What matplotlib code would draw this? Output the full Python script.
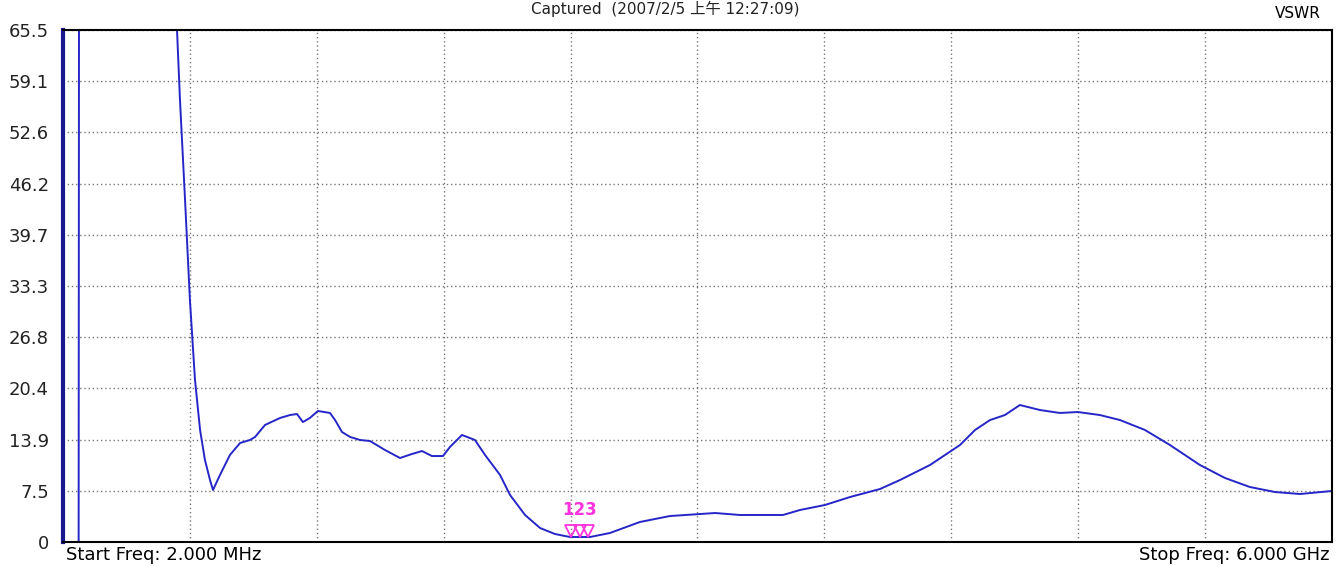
import numpy as np
import matplotlib
matplotlib.use("Agg")
import matplotlib.pyplot as plt

plt.rcParams['font.family'] = ['DejaVu Sans', 'Noto Sans CJK SC']

# VSWR trace, frequency in GHz
freq = [0.002, 0.004, 0.076, 0.078, 0.52,
        0.541, 0.555, 0.579, 0.602, 0.626, 0.650, 0.673, 0.697, 0.711, 0.744,
        0.791, 0.839, 0.886, 0.910, 0.957, 1.028, 1.075, 1.108, 1.136, 1.169,
        1.207, 1.264, 1.288, 1.321, 1.359, 1.406, 1.453, 1.524, 1.595, 1.652,
        1.699, 1.746, 1.798, 1.831, 1.888, 1.949, 1.997, 2.068, 2.115, 2.186,
        2.257, 2.327, 2.398, 2.493, 2.587, 2.729, 2.871, 3.013, 3.084, 3.202,
        3.405, 3.486, 3.604, 3.722, 3.864, 3.958, 4.100, 4.242, 4.313, 4.384,
        4.454, 4.525, 4.620, 4.714, 4.799, 4.903, 4.998, 5.116, 5.234, 5.376,
        5.494, 5.612, 5.731, 5.849, 6.000]
vswr = [80, 1.06, 1.06, 80, 80,
        65.5, 56.69, 44.10, 31.52, 21.45, 15.16, 11.38, 8.86, 7.60, 9.49,
        12.01, 13.52, 13.90, 14.28, 15.79, 16.67, 17.04, 17.17, 16.16, 16.67,
        17.55, 17.30, 16.41, 14.90, 14.28, 13.90, 13.77, 12.64, 11.63, 12.14,
        12.51, 11.88, 11.88, 13.02, 14.53, 13.90, 12.01, 9.49, 6.98, 4.46,
        2.82, 2.07, 1.69, 1.69, 2.19, 3.58, 4.33, 4.58, 4.71, 4.46,
        4.46, 5.09, 5.72, 6.72, 7.73, 8.86, 10.75, 13.27, 15.16, 16.41,
        17.04, 18.30, 17.67, 17.30, 17.42, 17.04, 16.41, 15.16, 13.27, 10.75,
        9.12, 7.98, 7.35, 7.10, 7.48]

# markers 1, 2, 3
marker_freq = [2.405, 2.445, 2.485]
marker_vswr = [2.4, 2.4, 2.4]
marker_names = ['1', '2', '3']

y_min, y_max = 1.06, 65.5
y_labels = ['0', '7.5', '13.9', '20.4', '26.8', '33.3', '39.7', '46.2', '52.6', '59.1', '65.5']
f_start, f_stop = 0.002, 6.0

fig = plt.figure(figsize=(13.4, 5.66), dpi=100)
ax = fig.add_axes([0.047, 0.0424, 0.947, 0.9046])

ax.plot(freq, vswr, color='#2626c8', lw=1.4, clip_on=True)
ax.plot(marker_freq, marker_vswr, 'v', ms=8, mfc='none', mec='#ff33dd', mew=1.3)
# the three marker numbers sit on top of each other, shown as one label
ax.text(marker_freq[1], marker_vswr[1] + 1.6, ''.join(marker_names), color='#ff33dd',
        fontsize=12, fontweight='bold', ha='center', va='bottom')

ax.set_xlim(f_start, f_stop)
ax.set_ylim(y_min, y_max)
ax.set_xticks(np.linspace(f_start, f_stop, 11))
ax.set_xticklabels([])
ax.set_yticks(np.linspace(y_min, y_max, 11))
ax.set_yticklabels(y_labels, fontsize=13, color='#222222')
ax.tick_params(length=0, pad=10)
ax.grid(True, color='#777777', ls=(0, (1, 2)), lw=1)

for s in ax.spines.values():
    s.set_color('black')
    s.set_linewidth(1.5)
ax.spines['left'].set_color('#1a1a90')
ax.spines['left'].set_linewidth(3)

fig.text(0.4963, 0.999, 'Captured  (2007/2/5 上午 12:27:09)', fontsize=11,
         ha='center', va='top', color='#222222')
fig.text(0.986, 0.977, 'VSWR', fontsize=11, ha='right', va='center')
fig.text(0.049, 0.019, 'Start Freq: 2.000 MHz', fontsize=13, ha='left', va='center')
fig.text(0.992, 0.019, 'Stop Freq: 6.000 GHz', fontsize=13, ha='right', va='center')

fig.savefig('out.png', dpi=100)
